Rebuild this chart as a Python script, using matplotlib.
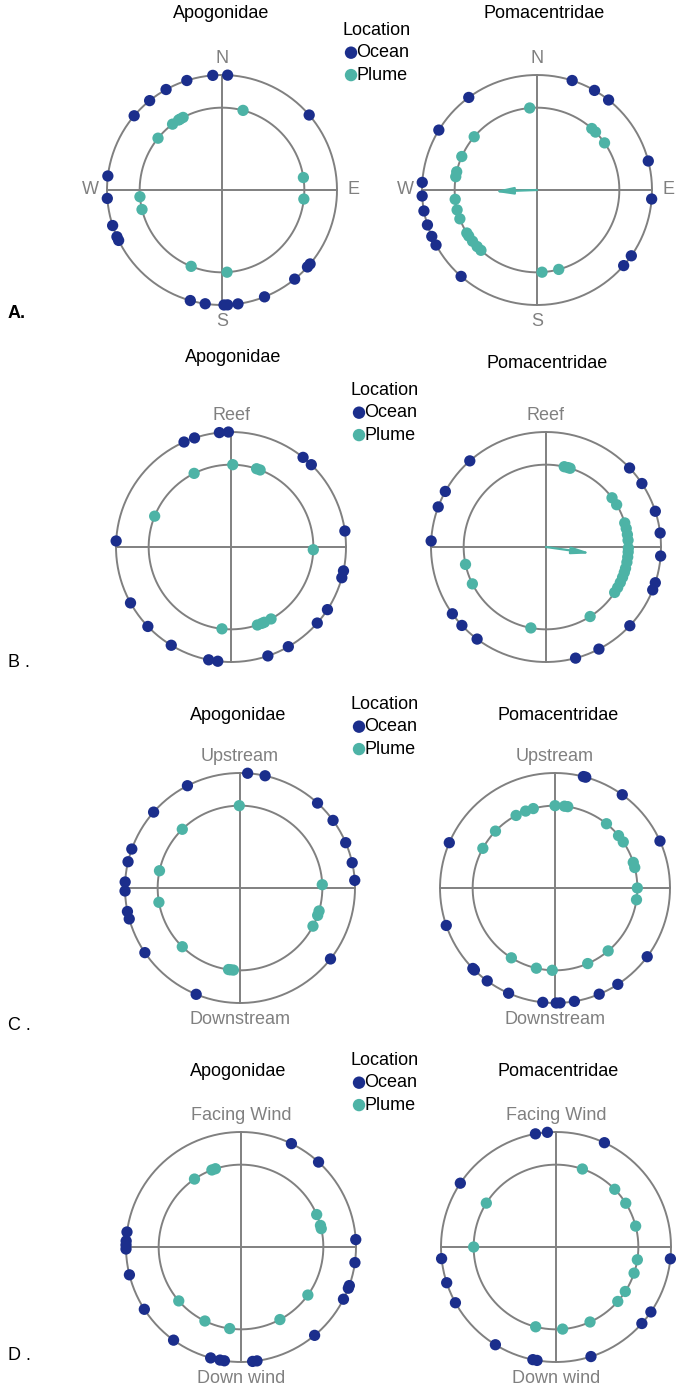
import numpy as np
import matplotlib
matplotlib.use("Agg")
import matplotlib.pyplot as plt

plt.rcParams['font.family'] = ['Liberation Sans', 'DejaVu Sans']

# ---------------- data (bearings in degrees, clockwise from top) ----------------
families = ["Apogonidae", "Pomacentridae"]
locations = ["Ocean", "Plume"]

a_labels = ["N", "E", "S", "W"]
b_labels = ["Reef", "", "", ""]
c_labels = ["Upstream", "", "Downstream", ""]
d_labels = ["Facing Wind", "", "Down wind", ""]

a_apo_ocean = [355.4, 2.8, 342.2, 330.9, 321, 310.2, 49.3, 277, 265.8, 252, 246, 244,
               130, 132, 140.8, 158.3, 172, 177.2, 179, 188.4, 196]
a_apo_plume = [14.8, 331.8, 329.5, 328.2, 323.1, 309, 81.3, 96.3, 265.3, 256.3, 202, 176.5]
a_pom_ocean = [17.8, 30, 38.5, 75.4, 94.5, 124.9, 131.1, 221.3, 241.4, 246.2, 252.3,
               259.5, 267, 273.8, 301.4, 323.6]
a_pom_plume = [354.9, 41.7, 45.3, 55.1, 310.3, 294, 282.8, 279.3, 263.5, 256, 249.5,
               238.5, 236, 231.5, 226.6, 222.9, 176.5, 164.7]
a_pom_mean = (268.0, 0.38)

b_apo_ocean = [354.2, 358.7, 341.5, 335.9, 38.8, 44.3, 82, 273, 102, 105.5, 123, 131.4,
               240.9, 226.3, 211.3, 191.2, 186.6, 161.3, 150.1]
b_apo_plume = [1.2, 333.4, 18.1, 20.7, 292, 91.9, 186.3, 161.3, 156.1, 150.9, 158]
b_pom_ocean = [318.5, 298.9, 290.4, 273, 46.6, 56.5, 71.9, 83, 94.5, 108.1, 111.9, 133.2,
               234.5, 227, 216.8, 152.6, 165.1]
b_pom_plume = [12.8, 15.3, 17, 53.3, 59.1, 73, 77, 81.3, 85.3, 90.7, 93.5, 97, 100.7, 105,
               108, 111.6, 115.5, 119.5, 123.5, 147.6, 190.6, 257.8, 243.4]
b_pom_mean = (98.0, 0.40)

c_apo_ocean = [3.8, 12.6, 332.8, 311.3, 289.8, 283.2, 273, 268.5, 258.2, 254.4, 235.8,
               42.4, 54, 66.8, 77.3, 86.2, 128.1, 202.4]
c_apo_plume = [359.5, 315.5, 282.1, 260, 87.7, 106.2, 109.4, 117.6, 224.5, 186.7, 184.6, 188]
c_pom_ocean = [14.3, 15.5, 35.8, 65.9, 293.2, 251, 126.7, 225.6, 224.5, 216.1, 203.8,
               186.1, 179.4, 177.5, 170.3, 157.4, 146.9]
c_pom_plume = [0, 6.6, 8.9, 344.7, 339.1, 331.8, 313.7, 298.8, 38.7, 50.5, 56, 71.9, 75.6,
               90, 98.2, 139.8, 156.6, 181.9, 193.1, 212]

d_apo_ocean = [26, 42.4, 277.5, 273, 271, 269, 256, 86.3, 97.8, 109.6, 111, 117, 140.2,
               172, 174.2, 188.3, 190.5, 195.3, 215.9, 237.2]
d_apo_plume = [325.6, 339.3, 341.9, 66.8, 74.8, 77.1, 125.7, 151.8, 187.9, 206, 229.1]
d_pom_ocean = [349.7, 355.7, 24.9, 303.7, 264.2, 251.9, 95.9, 124.4, 131.7, 162.3, 189.5,
               191.6, 211.8, 241]
d_pom_plume = [18.7, 45.5, 57.9, 75.3, 302.2, 270, 98.9, 108.5, 122.7, 131.4, 155.6,
               175.4, 194.3]

# ---------------- style ----------------
OCEAN = '#1B2E8C'
PLUME = '#4DB3A6'
GRAY = '#808080'
R_OUT, R_IN = 1.0, 0.716

W, H = 682, 1389
fig = plt.figure(figsize=(W / 100, H / 100), dpi=100)

RAD_PX = 126.5  # axes radius in pixels for rmax=1.1


def make_ax(cx, cy):
    rect = [(cx - RAD_PX) / W, (H - cy - RAD_PX) / H, 2 * RAD_PX / W, 2 * RAD_PX / H]
    ax = fig.add_axes(rect, projection='polar')
    ax.set_theta_zero_location('N')
    ax.set_theta_direction(-1)
    ax.set_ylim(0, 1.1)
    ax.grid(False)
    ax.set_xticks([])
    ax.set_yticks([])
    ax.spines['polar'].set_visible(False)
    ax.patch.set_alpha(0)
    return ax


def draw_panel(cx, cy, ocean, plume, labels, label_r, mean=None):
    ax = make_ax(cx, cy)
    t = np.linspace(0, 2 * np.pi, 500)
    for r in (R_OUT, R_IN):
        ax.plot(t, np.full_like(t, r), color=GRAY, lw=1.4, zorder=1)
    for ang in (0, 90, 180, 270):
        ax.plot([np.deg2rad(ang)] * 2, [0, R_OUT], color=GRAY, lw=1.4, zorder=1)
    so = ax.scatter(np.deg2rad(ocean), np.full(len(ocean), R_OUT), s=66,
                    color=OCEAN, edgecolors='none', zorder=3, label=locations[0])
    sp = ax.scatter(np.deg2rad(plume), np.full(len(plume), R_IN), s=66,
                    color=PLUME, edgecolors='none', zorder=3, label=locations[1])
    for ang, lab in zip((0, 90, 180, 270), labels):
        if lab:
            ax.text(np.deg2rad(ang), label_r, lab, color=GRAY, fontsize=13,
                    ha='center', va='center', clip_on=False)
    if mean is not None:
        ax.annotate('', xy=(np.deg2rad(mean[0]), mean[1]), xytext=(0, 0),
                    arrowprops=dict(arrowstyle='-|>,head_length=1.1,head_width=0.2',
                                    color=PLUME, lw=1.6, shrinkA=0, shrinkB=0),
                    zorder=2)
    return so, sp


rows = [
    dict(cy=190, cx=(222, 537), data=(a_apo_ocean, a_apo_plume, a_pom_ocean, a_pom_plume),
         labels=a_labels, mean=(None, a_pom_mean), titles_y=(13, 13),
         title_x=(221, 544), leg=(342, 22), letter=("A.", 313, 'bold')),
    dict(cy=547, cx=(231, 546), data=(b_apo_ocean, b_apo_plume, b_pom_ocean, b_pom_plume),
         labels=b_labels, mean=(None, b_pom_mean), titles_y=(357, 363),
         title_x=(233, 547), leg=(350, 382), letter=("B .", 662, 'normal')),
    dict(cy=888, cx=(240, 555), data=(c_apo_ocean, c_apo_plume, c_pom_ocean, c_pom_plume),
         labels=c_labels, mean=(None, None), titles_y=(716, 716),
         title_x=(238, 558), leg=(350, 696), letter=("C .", 1025, 'normal')),
    dict(cy=1247, cx=(241, 556), data=(d_apo_ocean, d_apo_plume, d_pom_ocean, d_pom_plume),
         labels=d_labels, mean=(None, None), titles_y=(1072, 1072),
         title_x=(238, 558), leg=(350, 1052), letter=("D .", 1355, 'normal')),
]

for row in rows:
    d = row['data']
    so, sp = draw_panel(row['cx'][0], row['cy'], d[0], d[1], row['labels'], 1.14, row['mean'][0])
    draw_panel(row['cx'][1], row['cy'], d[2], d[3], row['labels'], 1.14, row['mean'][1])
    for fam, tx, ty in zip(families, row['title_x'], row['titles_y']):
        fig.text(tx / W, 1 - ty / H, fam, ha='center', va='center', fontsize=13)
    lx, ly = row['leg']
    fig.legend(handles=[so, sp], labels=locations, title='Location',
               loc='upper left', bbox_to_anchor=(lx / W, 1 - ly / H),
               frameon=False, fontsize=13, title_fontsize=13, alignment='left',
               handletextpad=-0.2, handlelength=1.0, labelspacing=0.3,
               borderpad=0, borderaxespad=0, markerscale=1.1)
    lt, lyy, lw_ = row['letter']
    fig.text(8 / W, 1 - lyy / H, lt, ha='left', va='center', fontsize=13, fontweight=lw_)

fig.savefig('out.png', dpi=100)
